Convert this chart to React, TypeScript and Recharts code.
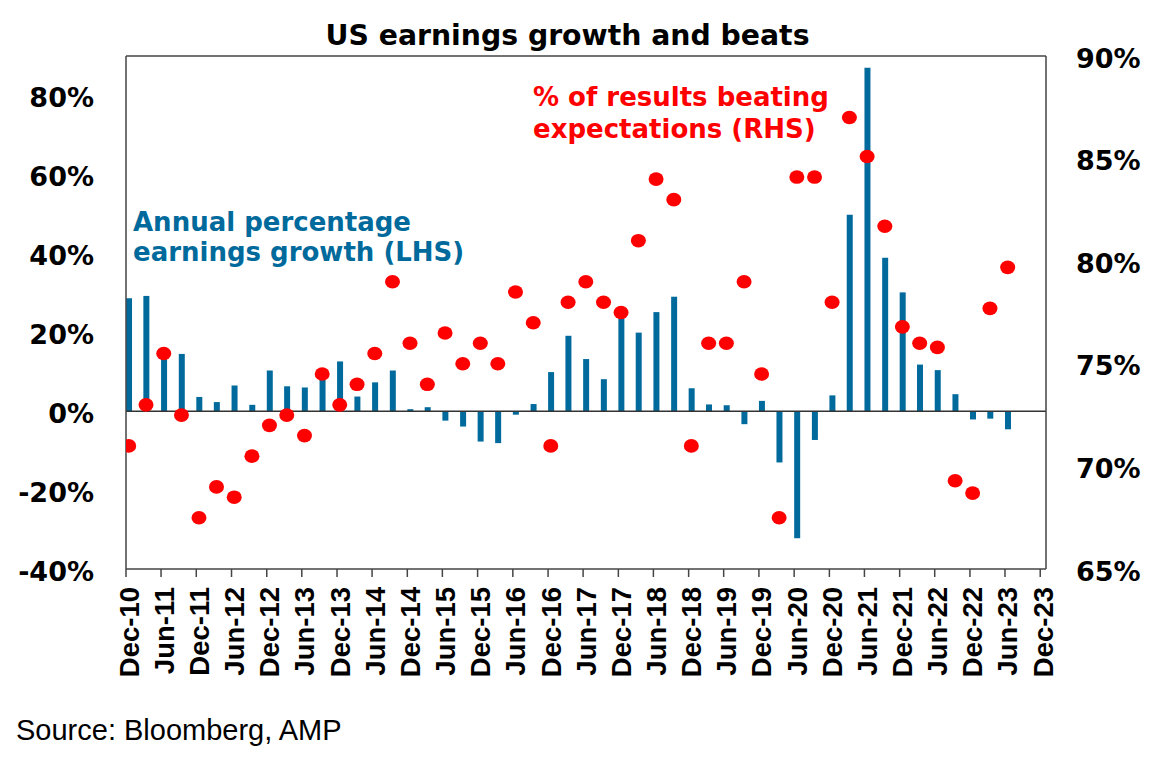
import React from "react";
import {
  ComposedChart,
  Bar,
  Scatter,
  XAxis,
  YAxis,
  ReferenceLine,
} from "recharts";

// ---- Data -------------------------------------------------------------
const quarters: string[] = [
  "Dec-10", "Mar-11", "Jun-11", "Sep-11", "Dec-11", "Mar-12", "Jun-12", "Sep-12",
  "Dec-12", "Mar-13", "Jun-13", "Sep-13", "Dec-13", "Mar-14", "Jun-14", "Sep-14",
  "Dec-14", "Mar-15", "Jun-15", "Sep-15", "Dec-15", "Mar-16", "Jun-16", "Sep-16",
  "Dec-16", "Mar-17", "Jun-17", "Sep-17", "Dec-17", "Mar-18", "Jun-18", "Sep-18",
  "Dec-18", "Mar-19", "Jun-19", "Sep-19", "Dec-19", "Mar-20", "Jun-20", "Sep-20",
  "Dec-20", "Mar-21", "Jun-21", "Sep-21", "Dec-21", "Mar-22", "Jun-22", "Sep-22",
  "Dec-22", "Mar-23", "Jun-23",
];

// Annual percentage earnings growth (LHS, %)
const earningsGrowth: number[] = [
  28.6, 29.2, 14.0, 14.5, 3.6, 2.3, 6.5, 1.6,
  10.3, 6.3, 6.0, 8.8, 12.6, 3.7, 7.3, 10.3,
  0.5, 1.0, -2.4, -3.9, -7.7, -8.1, -0.9, 1.8,
  9.9, 19.1, 13.2, 8.1, 24.0, 19.9, 25.1, 29.0,
  5.8, 1.7, 1.5, -3.3, 2.6, -13.0, -32.2, -7.3,
  4.0, 49.8, 87.0, 38.9, 30.1, 11.8, 10.4, 4.3,
  -2.1, -1.9, -4.6,
];

// % of results beating expectations (RHS, %)
const beatRate: number[] = [
  71.0, 73.0, 75.5, 72.5, 67.5, 69.0, 68.5, 70.5,
  72.0, 72.5, 71.5, 74.5, 73.0, 74.0, 75.5, 79.0,
  76.0, 74.0, 76.5, 75.0, 76.0, 75.0, 78.5, 77.0,
  71.0, 78.0, 79.0, 78.0, 77.5, 81.0, 84.0, 83.0,
  71.0, 76.0, 76.0, 79.0, 74.5, 67.5, 84.1, 84.1,
  78.0, 87.0, 85.1, 81.7, 76.8, 76.0, 75.8, 69.3,
  68.7, 77.7, 79.7,
];

const tickLabels: string[] = [
  "Dec-10", "Jun-11", "Dec-11", "Jun-12", "Dec-12", "Jun-13", "Dec-13",
  "Jun-14", "Dec-14", "Jun-15", "Dec-15", "Jun-16", "Dec-16", "Jun-17",
  "Dec-17", "Jun-18", "Dec-18", "Jun-19", "Dec-19", "Jun-20", "Dec-20",
  "Jun-21", "Dec-21", "Jun-22", "Dec-22", "Jun-23", "Dec-23",
];

const leftTicks: number[] = [-40, -20, 0, 20, 40, 60, 80];
const rightTicks: number[] = [65, 70, 75, 80, 85, 90];
const leftDomain: [number, number] = [-40, 90];
const rightDomain: [number, number] = [65, 90];

// ---- Helpers ----------------------------------------------------------
const MONTHS: Record<string, number> = { Mar: 2, Jun: 5, Sep: 8, Dec: 11 };
const toDate = (label: string, day: number) => {
  const [m, yy] = label.split("-");
  return Date.UTC(2000 + Number(yy), MONTHS[m], day);
};

const chartData = quarters.map((q, i) => ({
  quarter: q,
  date: toDate(q, 15),
  growth: earningsGrowth[i],
  beat: beatRate[i],
}));

const tickValues = tickLabels.map((l) => toDate(l, 1));
const labelByTick = new Map<number, string>(tickValues.map((v, i) => [v, tickLabels[i]]));
const xDomain: [number, number] = [Date.UTC(2010, 11, 1), Date.UTC(2023, 11, 31)];

const BLUE = "#006A9C";
const RED = "#FF0000";
const FRAME = "#454545";
const BOLD_FONT = "'DejaVu Sans', 'Liberation Sans', Arial, sans-serif";
const AXIS_FONT = "'Liberation Sans', Arial, sans-serif";

const LeftTick = (props: any) => {
  const { x, y, payload } = props;
  return (
    <text x={x} y={y} dy={11.5} textAnchor="end" fontFamily={BOLD_FONT} fontWeight="bold" fontSize={27} fill="#000">
      {`${payload.value}%`}
    </text>
  );
};

const RightTick = (props: any) => {
  const { x, y, payload } = props;
  return (
    <text x={x} y={y} dy={11.5} textAnchor="start" fontFamily={BOLD_FONT} fontWeight="bold" fontSize={27} fill="#000">
      {`${payload.value}%`}
    </text>
  );
};

const BottomTick = (props: any) => {
  const { x, y, payload } = props;
  return (
    <text
      transform={`translate(${x},${y}) rotate(-90)`}
      dy={12.5}
      textAnchor="end"
      fontFamily={AXIS_FONT}
      fontWeight="bold"
      fontSize={27.5}
      fill="#000"
    >
      {labelByTick.get(payload.value) ?? ""}
    </text>
  );
};

const Dot = (props: any) => {
  const { cx, cy } = props;
  if (cx == null || cy == null) return null;
  return <ellipse cx={cx} cy={cy} rx={7.5} ry={6.8} fill={RED} />;
};

export default function App() {
  return (
    <div style={{ position: "absolute", left: 0, top: 0, width: 1165, height: 762, background: "#fff" }}>
      <ComposedChart
        width={1165}
        height={762}
        data={chartData}
        margin={{ top: 56, right: 0, bottom: 0, left: 0 }}
      >
        <XAxis
          dataKey="date"
          type="number"
          domain={xDomain}
          ticks={tickValues}
          interval={0}
          height={193}
          tickSize={8}
          tickMargin={10}
          tickLine={{ stroke: FRAME, strokeWidth: 1.5 }}
          axisLine={{ stroke: FRAME, strokeWidth: 1.5 }}
          tick={<BottomTick />}
          allowDataOverflow
        />
        <YAxis
          yAxisId="left"
          orientation="left"
          type="number"
          domain={leftDomain}
          ticks={leftTicks}
          interval={0}
          width={126}
          tickSize={0}
          tickMargin={32}
          tickLine={false}
          axisLine={{ stroke: FRAME, strokeWidth: 1.5 }}
          tick={<LeftTick />}
          allowDataOverflow
        />
        <YAxis
          yAxisId="right"
          orientation="right"
          type="number"
          domain={rightDomain}
          ticks={rightTicks}
          interval={0}
          width={119}
          tickSize={0}
          tickMargin={30}
          tickLine={false}
          axisLine={{ stroke: FRAME, strokeWidth: 1.5 }}
          tick={<RightTick />}
          allowDataOverflow
        />
        <Bar dataKey="growth" yAxisId="left" fill={BLUE} barSize={6} isAnimationActive={false} />
        <ReferenceLine y={0} yAxisId="left" stroke="#333" strokeWidth={1.5} />
        <ReferenceLine y={90} yAxisId="left" stroke={FRAME} strokeWidth={1.5} />
        <Scatter dataKey="beat" yAxisId="right" shape={<Dot />} isAnimationActive={false} />
      </ComposedChart>
      <svg
        width={1165}
        height={762}
        style={{ position: "absolute", left: 0, top: 0, pointerEvents: "none" }}
      >
        <text x={567.5} y={45} textAnchor="middle" fontFamily={BOLD_FONT} fontWeight="bold" fontSize={28.3} fill="#000">
          US earnings growth and beats
        </text>
        <text fontFamily={BOLD_FONT} fontWeight="bold" fontSize={26} fill={BLUE}>
          <tspan x={133} y={230.5}>Annual percentage</tspan>
          <tspan x={133} y={261}>earnings growth (LHS)</tspan>
        </text>
        <text fontFamily={BOLD_FONT} fontWeight="bold" fontSize={26} fill={RED}>
          <tspan x={533} y={106}>% of results beating</tspan>
          <tspan x={533} y={138}>expectations (RHS)</tspan>
        </text>
        <text x={16} y={740} fontFamily={AXIS_FONT} fontSize={29} fill="#000">
          Source: Bloomberg, AMP
        </text>
      </svg>
    </div>
  );
}
